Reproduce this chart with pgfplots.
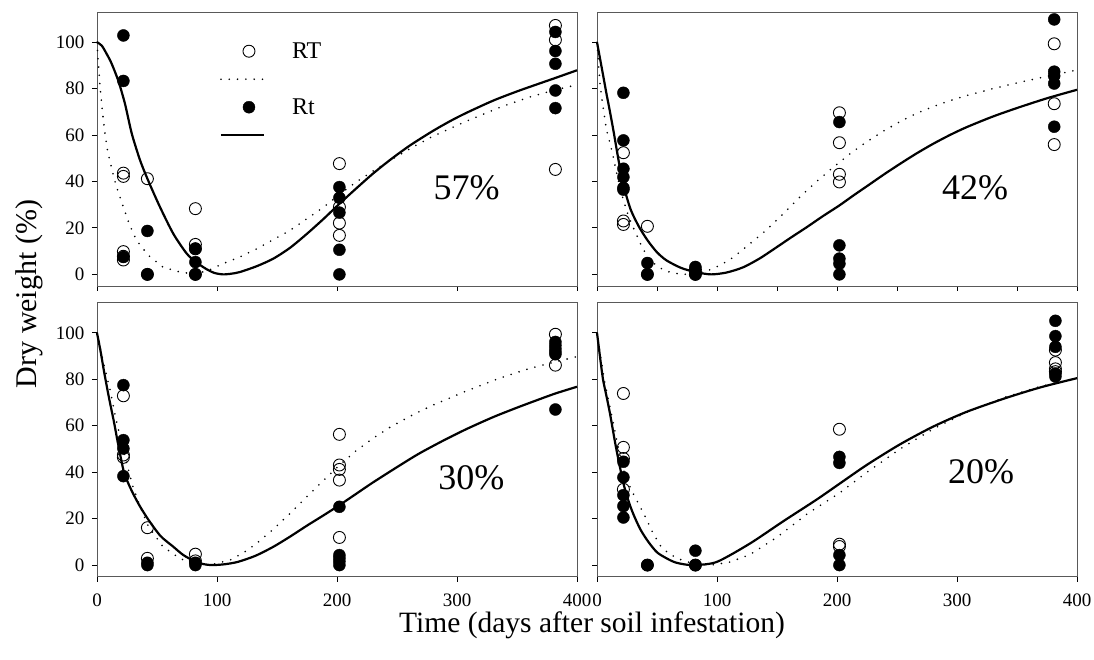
\documentclass[border=0pt]{standalone}
\usepackage{pgfplots}
\pgfplotsset{compat=1.18}
\usepackage{fontspec}
\setmainfont{Liberation Serif}

\definecolor{framegray}{gray}{0.35}

\pgfplotsset{
  panel/.style={
    scale only axis, width=480pt, height=274pt,
    anchor=south west,
    xmin=0, xmax=400, ymin=-5, ymax=113,
    xtick={0,100,...,400}, ytick={0,20,...,100},
    tick align=outside, tick pos=left, major tick length=5pt,
    axis line style={framegray, line width=0.9pt},
    every tick/.style={black, line width=0.9pt},
    /pgf/number format/assume math mode=true,
    tick label style={font=\fontsize{19}{19}\selectfont},
    xticklabel style={yshift=-9pt},
    yticklabel style={xshift=-4pt},
    clip=false,
  },
  openpt/.style={only marks, mark=o, mark size=6pt, mark options={black, line width=0.9pt}},
  fillpt/.style={only marks, mark=*, mark size=6pt, mark options={black, fill=black}},
  fitRT/.style={no marks, black, line width=1.8pt, line cap=round, dash pattern=on 0pt off 8.3pt},
  fitRt/.style={no marks, black, line width=2.2pt, smooth, tension=0.45},
}
\tikzset{pct/.style={font=\fontsize{36}{36}\selectfont, inner sep=0pt}}

\begin{document}
\begin{tikzpicture}[x=1pt,y=1pt]
\path[use as bounding box] (0,0) rectangle (1094,660);

% ---------- 57% ----------
\begin{axis}[panel, at={(97pt,374pt)}, xticklabels={},
  legend style={at={(axis description cs:0.256,0.897)}, anchor=north west, draw=none, fill=none,
    inner sep=0pt, outer sep=0pt,
    font=\fontsize{24}{24}\selectfont, row sep=6pt, cells={anchor=west},
    /tikz/every odd column/.append style={column sep=25pt},
    nodes={inner sep=2pt, text height=16pt, text depth=2pt}},
  legend image code/.code={\draw[mark repeat=2,mark phase=2,#1] plot coordinates {(0pt,0pt)(28pt,0pt)(43pt,0pt)};},
]
\addplot[openpt] coordinates {(22,43.6)(22,42.2)(22,9.8)(22,7.8)(22,6.2)(42,41.2)(42,0)
  (82,28.3)(82,12.9)(82,11)(82,0)(202,47.7)(202,29)(202,22.1)(202,16.8)
  (382,107.2)(382,101)(382,45.2)};
\addlegendentry{RT}
\addplot[fitRT] coordinates {(0,100)(1,92)(2.5,81)(4.5,70)(6.7,60.6)(9,52.5)(12,46.2)(16,38)
  (22,29)(27,21.5)(33,14.6)(42.8,8.2)(55,3.1)(69,1)(80,0.2)(92,1.5)(105,4.6)(119,7.5)
  (133,11)(147,15)(161,19)(175,24)(189,29)(202,34.5)(216,39.8)(230,44.5)(244,49)
  (262,54.5)(280,59.5)(308,66)(336,72)(360,76.3)(382,79.5)(400,81.6)};
\addlegendentry{\mbox{}}
\addplot[fillpt] coordinates {(22,102.9)(22,83.3)(22,7.5)(42,18.7)(42,0)(82,11.1)(82,5.3)(82,0)
  (202,37.6)(202,33)(202,26.6)(202,10.6)(202,0)
  (382,104.4)(382,96.2)(382,90.7)(382,79.2)(382,71.6)};
\addlegendentry{Rt}
\addplot[fitRt] coordinates {(0,100)(4,98.5)(8,95)(12,91)(17.8,83.3)(23.3,73.5)(29,60.6)(36,49)
  (43,40)(52.5,29)(63.6,17.5)(74.7,9)(82.5,5.3)(91.4,2.2)(98,0.6)(105,0)(112,0.3)(119,1)
  (133,3.5)(147,6.8)(161,11.5)(175,17.5)(189,24)(202,30.4)(216,37)(230,43.4)(245,49.6)
  (261,55.6)(280,61.8)(295,66.2)(308,69.6)(330,74.8)(350,78.8)(367,81.9)(382,84.6)(400,87.9)};
\addlegendentry{\mbox{}}
\node[pct] at (axis cs:308,37.5) {57\%};
\end{axis}

% ---------- 42% ----------
\begin{axis}[panel, at={(597pt,374pt)}, xticklabels={}, yticklabels={}, xtick={0,50,...,400}]
\addplot[openpt] coordinates {(22,52.4)(22,23)(22,21.5)(42,20.7)(42,0)(82,0)(82,2)
  (202,69.6)(202,56.7)(202,43.1)(202,39.8)(381,99.3)(381,73.5)(381,55.9)};
\addplot[fitRT] coordinates {(0,100)(1,93)(2.5,82)(5,72)(8,62)(13,52)(17,42)(22,31.9)(26,25.5)
  (30,20.4)(36,13.5)(42,7.5)(50,3.5)(58,1.3)(70,0)(80,0.2)(92,1.5)(103,4)(114,7.5)(127,13)
  (141,19)(155,26)(169,33.3)(183,40)(197,46.2)(211,52)(225,57.2)(239,61.8)(252.5,65.8)
  (266,69.3)(280,72.2)(294,74.8)(308,77)(330,80)(352,82.7)(376,85.4)(400,88)};
\addplot[fillpt] coordinates {(22,78.2)(22,57.7)(22,45.5)(22,41.9)(22,37.3)(22,36.5)(42,4.9)(42,0)
  (82,3.2)(82,1)(82,0)(202,65.6)(202,12.5)(202,6.8)(202,4.6)(202,0)
  (381,109.8)(381,87.3)(381,85.5)(381,82.2)(381,63.6)};
\addplot[fitRt] coordinates {(0,100)(2.5,93)(5,86)(8,77.5)(10.6,70.6)(14,61)(18,49)(22,38.5)
  (28,28)(35,20.5)(42.2,14.6)(50,9.5)(58,6)(70,2.8)(82,1)(95,0)(108,0.8)(122,3.1)(136,7)
  (150,11.8)(162,16)(175,20.4)(188,25)(202,29.7)(214,34.1)(225,38)(239,43)(252.5,47.6)
  (266,52)(280,56.2)(294,60)(308,63.4)(330,68)(352,72)(376,76)(400,79.5)};
\node[pct] at (axis cs:315,37.5) {42\%};
\end{axis}

% ---------- 30% ----------
\begin{axis}[panel, at={(97pt,83.3pt)}]
\addplot[openpt] coordinates {(22,72.9)(22,47.4)(22,46.4)(42,16.1)(42,2.9)(82,4.7)(82,1.8)
  (202,56.3)(202,43.1)(202,41.2)(202,36.6)(202,11.9)(382,99.4)(382,86.1)};
\addplot[fitRT] coordinates {(0,100)(2.5,94)(5,88)(8,81.5)(11,75.3)(16,62.4)(22.5,48)(30,33.7)
  (36,25)(43,16.5)(55,7.9)(69,2.9)(78,0.8)(88,0)(98,0.5)(111,2.2)(122,5.3)(133,9.3)
  (147,15.5)(161,22.3)(175,29.5)(189,36.6)(202,43)(216,49.3)(230,54.6)(244,59.3)
  (258,63.3)(269,66.2)(280,68.9)(308,75)(336,80.6)(360,84.6)(382,87.5)(400,89.8)};
\addplot[fillpt] coordinates {(22,77.5)(22,53.8)(22,50.2)(22,38.3)(42,0)(42,1)(82,0)(82,1)
  (202,25.1)(202,4.3)(202,3)(202,1.6)(202,0)
  (382,96.1)(382,94.6)(382,93.1)(382,91.8)(382,90.8)(382,67)};
\addplot[fitRt] coordinates {(0,100)(3,92)(6,83)(10,72)(14,62)(18,51)(22.5,40)(28,33)(35,26)
  (43,19.4)(53,12.5)(63.6,7.9)(72,4.3)(82.5,1.4)(90,0.3)(97,0)(107,0.4)(117.5,1.4)(132,4)
  (147,7.9)(161,12.3)(175,17)(189,21.5)(202,25.8)(216,30.7)(230,35.6)(252.5,43)
  (269,48.2)(290,54)(308,58.6)(330,63.7)(350,67.8)(366,70.9)(382,73.9)(400,76.8)};
\node[pct] at (axis cs:312,37.5) {30\%};
\end{axis}

% ---------- 20% ----------
\begin{axis}[panel, at={(597pt,83.3pt)}, yticklabels={}]
\addplot[openpt] coordinates {(22,73.9)(22,50.7)(22,45.9)(22,32.6)(42,0)(82,0)
  (202,58.5)(202,9)(202,8)(382,92.6)(382,87.2)(382,84.5)(382,83.3)};
\addplot[fitRT] coordinates {(0,100)(3,90)(6,80)(10,70)(14,60)(18,50)(22,41)(28,33)(34,27)
  (40,21)(46,14.5)(52.5,8.5)(60,4.8)(72,1.8)(85,0.3)(95,0)(110,1.2)(127.5,4.5)(150,12)
  (175,22)(202,31)(225,40)(252.5,50)(280,58.6)(308,65.8)(340,72.3)(370,77)(400,80.5)};
\addplot[fillpt] coordinates {(22,44.5)(22,37.8)(22,30.1)(22,25.4)(22,20.5)(42,0)(82,6.2)(82,0)
  (202,46.6)(202,44)(202,4.3)(202,0)
  (382,105.2)(382,98.6)(382,94)(382,82.5)(382,81.2)};
\addplot[fitRt] coordinates {(0,100)(2.5,89.7)(5,80)(8,72.5)(10.8,65.3)(15,53)(18,45)(22,35.2)
  (26,28)(30,22.3)(36,15.5)(42.8,10)(50,5.5)(58,2.9)(65,1.2)(73,0.3)(82,0)(100,1.4)
  (127.5,9.3)(155,18.8)(183,28.2)(202,35)(225,43.2)(252.5,52)(280,59.6)(308,66)
  (341,72)(370,76.6)(400,80.5)};
\node[pct] at (axis cs:320,40) {20\%};
\end{axis}

\node[font=\fontsize{29.5}{29.5}\selectfont, anchor=base] at (592,27) {Time (days after soil infestation)};
\node[font=\fontsize{30}{30}\selectfont, rotate=90, anchor=base] at (36.7,366) {Dry weight (\%)};
\end{tikzpicture}
\end{document}
